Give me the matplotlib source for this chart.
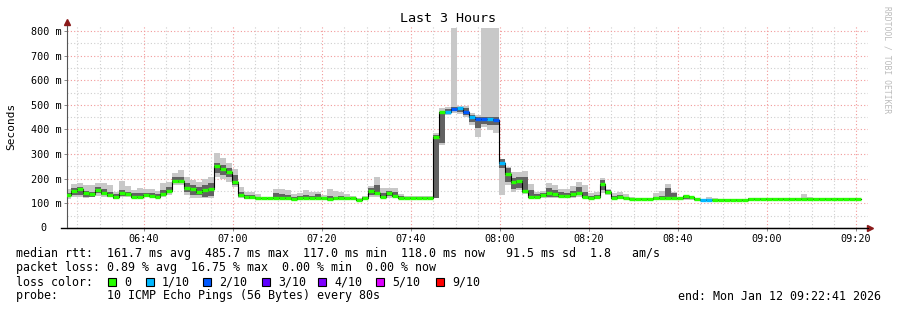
import matplotlib
matplotlib.use("Agg")
import matplotlib.pyplot as plt
import matplotlib.dates as mdates
from matplotlib.patches import Rectangle
from datetime import datetime, timedelta

MONO = "DejaVu Sans Mono"

# 80 s steps, values in ms
median = [134, 152, 160, 143, 138, 154, 143, 134, 125, 141, 136, 127, 127, 134, 129, 127, 138, 152,
          191, 191, 164, 157, 148, 155, 158, 252, 241, 226, 186, 134, 127, 125, 121, 121, 121, 123,
          122, 120, 116, 120, 121, 120, 122, 120, 116, 120, 121, 120, 120, 115, 121, 152, 143, 127,
          141, 131, 123, 122, 122, 122, 122, 122, 368, 470, 470, 485, 487, 470, 452, 441, 444, 443,
          440, 265, 219, 188, 191, 152, 125, 127, 133, 141, 138, 131, 129, 138, 143, 127, 121, 125,
          177, 145, 120, 125, 121, 118, 118, 119, 119, 120, 120, 120, 120, 120, 129, 124, 116, 114,
          114] + [114] * 6 + [118] * 19

outer_hi = [157, 179, 184, 175, 175, 181, 184, 175, 148, 192, 170, 154, 162, 160, 157, 152, 184, 188,
            222, 236, 208, 195, 188, 198, 208, 306, 283, 263, 239, 168, 148, 148, 138, 127, 127, 160,
            157, 154, 138, 143, 154, 148, 148, 134, 160, 152, 148, 138, 130, 120, 130, 170, 208, 162,
            161, 161, 138, 128, 128, 128, 128, 128, 384, 486, 490, 811, 495, 495, 466, 459, 811, 811,
            811, 279, 249, 229, 229, 233, 179, 148, 152, 184, 175, 160, 160, 170, 188, 175, 141, 148,
            201, 160, 141, 148, 138, 125, 120, 122, 122, 143, 152, 179, 148, 122, 134, 127, 122, 119,
            127, 122] + [119] * 5 + [122] * 9 + [136, 127] + [122] * 8
outer_lo = [119, 125, 127, 120, 125, 130, 127, 125, 116, 125, 127, 125, 125, 127, 127, 125, 127, 134,
            175, 175, 134, 120, 120, 120, 120, 208, 198, 188, 168, 120, 116, 116, 114, 116, 116, 116,
            116, 114, 111, 116, 116, 116, 116, 114, 111, 114, 114, 114, 114, 111, 116, 127, 127, 120,
            121, 128, 121, 118, 118, 118, 118, 118, 121, 337, 459, 466, 463, 449, 418, 371, 411, 398,
            384, 134, 175, 148, 154, 138, 120, 120, 120, 120, 120, 120, 120, 120, 127, 120, 116, 120,
            141, 134, 116, 118, 116, 116, 114, 114, 114, 114, 114, 114, 114, 114, 114, 114, 111, 111,
            111, 111] + [111] * 5 + [114] * 19
inner_hi = [143, 161, 168, 152, 148, 165, 157, 148, 138, 154, 148, 141, 141, 143, 141, 138, 154, 165,
            206, 208, 181, 175, 168, 175, 181, 263, 256, 242, 215, 148, 134, 134, 127, 123, 123, 143,
            138, 134, 127, 130, 134, 130, 138, 125, 130, 127, 130, 127, 123, 118, 125, 161, 175, 143,
            152, 148, 130, 126, 126, 126, 126, 126, 378, 470, 482, 490, 490, 486, 459, 452, 452, 449,
            452, 279, 242, 201, 208, 208, 154, 138, 141, 161, 154, 148, 143, 152, 168, 148, 130, 134,
            195, 154, 130, 134, 127, 122, 118, 120, 120, 127, 130, 161, 141, 120, 130, 125, 119, 116,
            119, 117] + [116] * 5 + [120] * 19
inner_lo = [125, 134, 134, 125, 127, 141, 134, 127, 119, 130, 130, 125, 125, 127, 125, 125, 130, 141,
            181, 181, 148, 134, 134, 127, 130, 222, 215, 208, 175, 125, 119, 118, 116, 118, 118, 119,
            118, 116, 114, 118, 118, 118, 118, 116, 114, 116, 116, 116, 116, 112, 118, 134, 134, 125,
            128, 128, 121, 119, 119, 119, 119, 119, 123, 345, 463, 476, 472, 459, 431, 405, 422, 418,
            418, 243, 188, 157, 161, 143, 125, 125, 125, 127, 127, 125, 125, 127, 134, 125, 118, 120,
            154, 138, 118, 120, 118, 116, 116, 116, 116, 117, 117, 117, 117, 116, 117, 117, 113, 112,
            112, 112] + [112] * 5 + [116] * 19

# lost pings out of 10 per step
loss = [0] * 64 + [1, 2, 1, 2, 1, 2, 2, 1, 2, 1] + [0] * 33 + [1, 1] + [0] * 25

loss_labels = ["0", "1/10", "2/10", "3/10", "4/10", "5/10", "9/10"]
loss_colors = ["#26ff00", "#00b8ff", "#0059ff", "#5e00ff", "#7e00ff", "#dd00ff", "#ff0000"]
loss_index = {0: 0, 1: 1, 2: 2, 3: 3, 4: 4, 5: 5, 9: 6}

start = datetime(2026, 1, 12, 6, 22, 41)
end = start + timedelta(hours=3)
step = timedelta(seconds=80)
first = start - timedelta(seconds=20)

n = len(median)
lefts = [mdates.date2num(first + step * k) for k in range(n)]
rights = [mdates.date2num(first + step * (k + 1)) for k in range(n)]
width = rights[0] - lefts[0]

fig = plt.figure(figsize=(8.97, 3.10), dpi=100)
ax = fig.add_axes([67 / 897, 82 / 310, 801 / 897, 202 / 310])

# smoke
ax.bar(lefts, [h - l for h, l in zip(outer_hi, outer_lo)], width=width, bottom=outer_lo,
       align="edge", color="#c8c8c8", linewidth=0, zorder=2)
ax.bar(lefts, [h - l for h, l in zip(inner_hi, inner_lo)], width=width, bottom=inner_lo,
       align="edge", color="#626262", linewidth=0, zorder=2.5)

# median
ax.step(lefts + [rights[-1]], median + [median[-1]], where="post", color="black", lw=0.8, zorder=3)
ax.hlines(median, lefts, rights, colors=[loss_colors[loss_index[v]] for v in loss], lw=2.4, zorder=4)

ax.set_xlim(mdates.date2num(start), mdates.date2num(end))
ax.set_ylim(0, 820)

ax.xaxis.set_major_locator(mdates.MinuteLocator(byminute=[0, 20, 40]))
ax.xaxis.set_minor_locator(mdates.MinuteLocator(byminute=range(0, 60, 5)))
ax.xaxis.set_major_formatter(mdates.DateFormatter("%H:%M"))
ax.set_yticks(range(0, 801, 100))
ax.set_yticks(range(0, 801, 50), minor=True)
ax.set_yticklabels([""] + ["%d m" % v for v in range(100, 801, 100)])
# zero label sits under the units digit, as rrdtool does
ax.annotate("0", xy=(0, 0), xycoords=("axes fraction", "data"), xytext=(-14.6, 0),
            textcoords="offset points", ha="right", va="center", size=7.3, family=MONO)

ax.grid(which="minor", color="#cfcfcf", linestyle=(0, (1, 2)), lw=0.8)
ax.grid(which="major", color="#f29a9a", linestyle=(0, (1, 2)), lw=0.8)
ax.set_axisbelow(True)

ax.tick_params(which="both", labelsize=7.3, length=2, width=0.6, color="#777777", pad=2)
ax.tick_params(which="minor", length=0)
for lab in ax.get_xticklabels() + ax.get_yticklabels():
    lab.set_fontfamily(MONO)

for s in ["top", "right"]:
    ax.spines[s].set_visible(False)
ax.spines["left"].set_color("#555555")
ax.spines["bottom"].set_color("black")
ax.plot([-0.007, 1.0], [0, 0], transform=ax.transAxes, color="black", lw=1, clip_on=False)
ax.plot([0], [1.02], marker="^", ms=4, color="#8b1a1a", transform=ax.transAxes, clip_on=False)
ax.plot([1.003], [0], marker=">", ms=4, color="#8b1a1a", transform=ax.transAxes, clip_on=False)

fig.text(448 / 897, 1 - 19 / 310, "Last 3 Hours", ha="center", va="center", size=9.6, family=MONO)
fig.text(11 / 897, 1 - 126 / 310, "Seconds", rotation=90, ha="center", va="center", size=8, family=MONO)
fig.text(887 / 897, 1 - 60 / 310, "RRDTOOL / TOBI OETIKER", rotation=270, ha="center", va="center",
         size=5.8, family=MONO, color="#bbbbbb")

fs = 8.4
fig.text(16 / 897, 1 - 254 / 310,
         "median rtt:  161.7 ms avg  485.7 ms max  117.0 ms min  118.0 ms now   91.5 ms sd  1.8   am/s",
         va="center", size=fs, family=MONO)
fig.text(16 / 897, 1 - 268 / 310,
         "packet loss: 0.89 % avg  16.75 % max  0.00 % min  0.00 % now",
         va="center", size=fs, family=MONO)
fig.text(16 / 897, 1 - 282 / 310, "loss color:", va="center", size=fs, family=MONO)
box_x = [108, 146, 203, 262, 318, 376, 436]
for bx, lab, col in zip(box_x, loss_labels, loss_colors):
    fig.patches.append(Rectangle((bx / 897, 1 - 286 / 310), 8 / 897, 8 / 310, transform=fig.transFigure,
                                 facecolor=col, edgecolor="black", lw=0.8))
    fig.text((bx + 16) / 897, 1 - 282 / 310, lab, va="center", size=fs, family=MONO)
fig.text(16 / 897, 1 - 296 / 310, "probe:       10 ICMP Echo Pings (56 Bytes) every 80s",
         va="center", size=fs, family=MONO)
fig.text(881 / 897, 1 - 296 / 310, "end: Mon Jan 12 09:22:41 2026", ha="right", va="center",
         size=fs, family=MONO)

fig.savefig("out.png", dpi=100, facecolor="white")
